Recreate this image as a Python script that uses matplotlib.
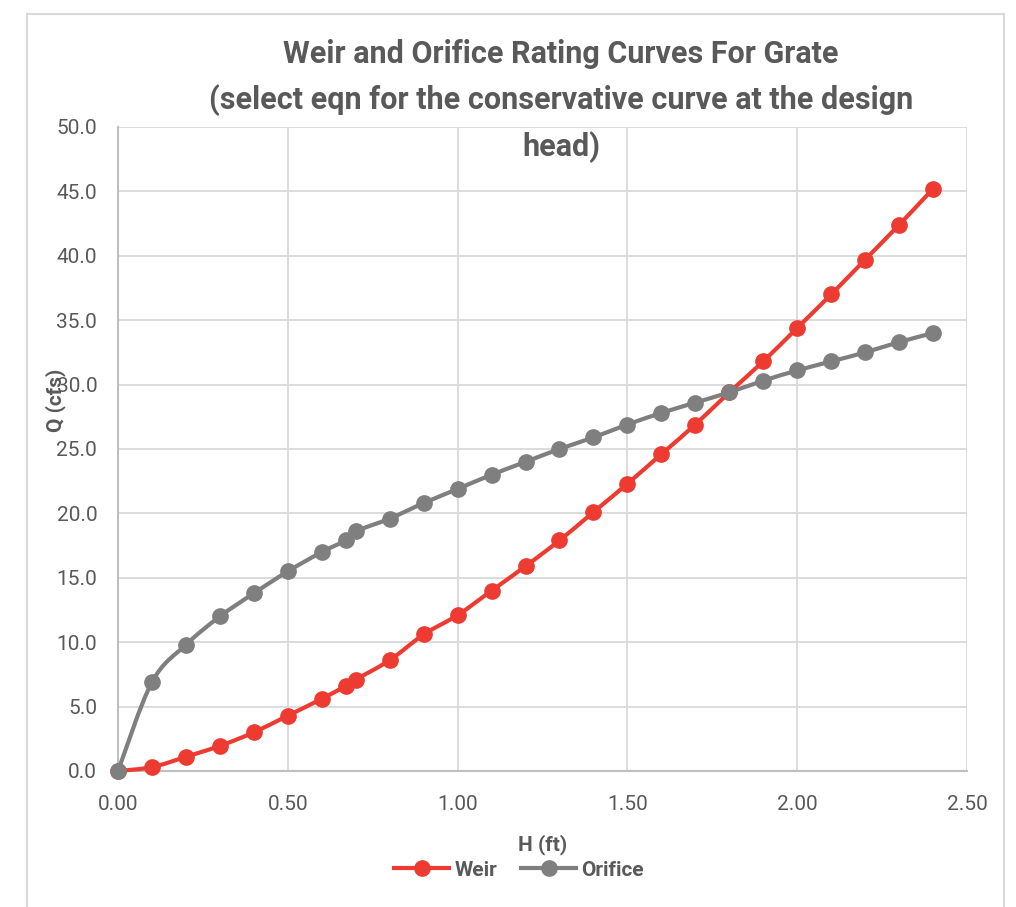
import numpy as np
import matplotlib
matplotlib.use("Agg")
import matplotlib.pyplot as plt
from matplotlib.path import Path
from matplotlib.patches import PathPatch, Rectangle
from matplotlib.lines import Line2D

# Head (ft) and flow (cfs) for the two grate equations
head = [0.0, 0.1, 0.2, 0.3, 0.4, 0.5, 0.6, 0.67, 0.7, 0.8, 0.9, 1.0, 1.1, 1.2,
        1.3, 1.4, 1.5, 1.6, 1.7, 1.8, 1.9, 2.0, 2.1, 2.2, 2.3, 2.4]
weir_q = [0.0, 0.3, 1.1, 1.95, 3.0, 4.3, 5.6, 6.6, 7.1, 8.6, 10.6, 12.1, 14.0, 15.9,
          17.9, 20.1, 22.3, 24.6, 26.9, 29.4, 31.8, 34.4, 37.0, 39.7, 42.4, 45.2]
orifice_q = [0.0, 6.9, 9.8, 12.0, 13.8, 15.5, 17.0, 17.9, 18.6, 19.6, 20.8, 21.9, 23.0, 24.0,
             25.0, 25.9, 26.9, 27.8, 28.6, 29.4, 30.3, 31.1, 31.8, 32.5, 33.3, 34.0]

x_ticks = [0.0, 0.5, 1.0, 1.5, 2.0, 2.5]
y_ticks = [0, 5, 10, 15, 20, 25, 30, 35, 40, 45, 50]

title = ("Weir and Orifice Rating Curves For Grate\n"
         "(select eqn for the conservative curve at the design\n"
         "head)")

WEIR_RED = "#ee3b31"
ORIFICE_GRAY = "#7f7f7f"
TEXT_GRAY = "#595959"
BODY_FONT = ["Roboto", "DejaVu Sans"]


def smooth_path(xs, ys):
    """Catmull-Rom style Bezier through the points (spreadsheet 'smoothed line')."""
    pts = np.column_stack([xs, ys])
    n = len(pts)
    verts = [pts[0]]
    codes = [Path.MOVETO]
    for i in range(n - 1):
        p0 = pts[i - 1] if i > 0 else pts[i]
        p1 = pts[i]
        p2 = pts[i + 1]
        p3 = pts[i + 2] if i + 2 < n else pts[i + 1]
        c1 = p1 + (p2 - p0) / 6.0
        c2 = p2 - (p3 - p1) / 6.0
        verts += [c1, c2, p2]
        codes += [Path.CURVE4] * 3
    return Path(verts, codes)


fig = plt.figure(figsize=(10.16, 9.07), dpi=100)
fig.patch.set_facecolor("white")

# outer chart border
fig.add_artist(Rectangle((27 / 1016, -0.01), (1004 - 27) / 1016, 1 - 14 / 907 + 0.01,
                         transform=fig.transFigure, fill=False,
                         edgecolor="#d9d9d9", linewidth=1.5))

ax = fig.add_axes([118 / 1016, 1 - 771 / 907, (967 - 118) / 1016, (771 - 127) / 907])
ax.set_xlim(0, 2.5)
ax.set_ylim(0, 50)
ax.set_xticks(x_ticks)
ax.set_yticks(y_ticks)
ax.set_xticklabels([f"{v:.2f}" for v in x_ticks])
ax.set_yticklabels([f"{v:.1f}" for v in y_ticks])
ax.grid(True, color="#d9d9d9", linewidth=1.3)
ax.set_axisbelow(True)
for side in ["top", "right"]:
    ax.spines[side].set_visible(False)
for side in ["left", "bottom"]:
    ax.spines[side].set_color("#bfbfbf")
    ax.spines[side].set_linewidth(1.5)
ax.tick_params(length=0, labelsize=15, colors=TEXT_GRAY)
ax.tick_params(axis="y", pad=15)
ax.tick_params(axis="x", pad=17)
for lbl in ax.get_xticklabels() + ax.get_yticklabels():
    lbl.set_fontfamily(BODY_FONT)

for qs, color, z in [(weir_q, WEIR_RED, 3), (orifice_q, ORIFICE_GRAY, 4)]:
    ax.add_patch(PathPatch(smooth_path(head, qs), fill=False, edgecolor=color,
                           linewidth=3, capstyle="round", joinstyle="round",
                           zorder=z, clip_on=False))
    ax.plot(head, qs, linestyle="none", marker="o", markersize=11,
            color=color, zorder=z + 0.5, clip_on=False)

ax.set_xlabel("H (ft)", fontsize=15, fontweight="bold", color=TEXT_GRAY,
              family=BODY_FONT)
ax.xaxis.set_label_coords(0.5, -0.099)
ax.set_ylabel("Q (cfs)", fontsize=15, fontweight="bold", color=TEXT_GRAY,
              family=BODY_FONT)
ax.yaxis.label.set_verticalalignment("center")
ax.yaxis.set_label_coords(-0.074, 0.576)

fig.text(561 / 1016, 1 - 101 / 907, title, ha="center", va="center",
         fontsize=22, fontweight="bold", color=TEXT_GRAY, family=BODY_FONT,
         linespacing=1.6)

handles = [Line2D([], [], color=WEIR_RED, linewidth=3, marker="o", markersize=11),
           Line2D([], [], color=ORIFICE_GRAY, linewidth=3, marker="o", markersize=11)]
leg = fig.legend(handles, ["Weir", "Orifice"], loc="center",
                 bbox_to_anchor=(519 / 1016, 1 - 870 / 907), ncol=2, frameon=False,
                 handlelength=2.65, handletextpad=0.25, columnspacing=1.15,
                 prop={"family": BODY_FONT, "size": 15, "weight": "bold"})
for t in leg.get_texts():
    t.set_color(TEXT_GRAY)

fig.savefig("out.png", dpi=100, facecolor="white")
